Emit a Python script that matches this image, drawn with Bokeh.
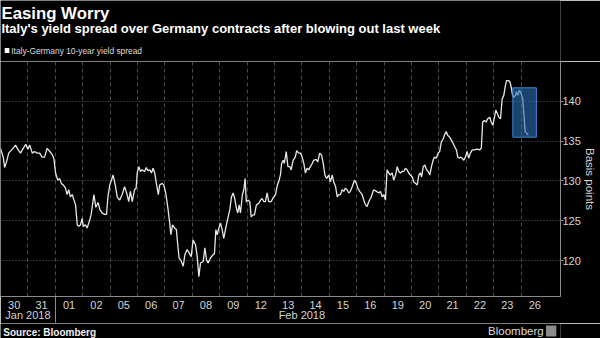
import math
from bokeh.plotting import figure
from bokeh.layouts import column
from bokeh.models import Range1d, FixedTicker, Label, Quad, ColumnDataSource, LinearAxis
from bokeh.embed import file_html
from bokeh.resources import INLINE

# ---- data (x = trading-day position, 0 = start of Jan 30; y = spread in bp) ----
day_labels = ["30", "31", "01", "02", "05", "06", "07", "08", "09", "12",
              "13", "14", "15", "16", "19", "20", "21", "22", "23", "26"]
month_labels = ["Jan 2018", "Feb 2018"]
month_pos = [1.0, 11.0]          # centre of each month's span of day slots
month_break = [2.0]              # boundary between Jan and Feb slots
y_ticks = [120, 125, 130, 135, 140]

t = [
    0.00, 0.10, 0.15, 0.22, 0.30, 0.43, 0.55, 0.63, 0.73, 0.83,
    0.92, 1.00, 1.07, 1.16, 1.24, 1.34, 1.43, 1.52, 1.61, 1.70,
    1.80, 1.89, 1.95, 2.01, 2.09, 2.16, 2.22, 2.29, 2.37, 2.43,
    2.49, 2.55, 2.62, 2.68, 2.74, 2.80, 2.86, 2.92, 2.98, 3.02,
    3.10, 3.16, 3.24, 3.31, 3.41, 3.48, 3.56, 3.63, 3.71, 3.80,
    3.87, 3.92, 3.99, 4.11, 4.20, 4.26, 4.35, 4.44, 4.53, 4.62,
    4.68, 4.74, 4.81, 4.89, 4.95, 4.99, 5.05, 5.11, 5.17, 5.26,
    5.32, 5.38, 5.45, 5.51, 5.57, 5.63, 5.69, 5.76, 5.81, 5.90,
    5.96, 6.03, 6.11, 6.17, 6.22, 6.28, 6.35, 6.42, 6.47, 6.52,
    6.59, 6.67, 6.73, 6.81, 6.88, 6.96, 7.03, 7.12, 7.18, 7.24,
    7.30, 7.40, 7.46, 7.52, 7.58, 7.66, 7.76, 7.81, 7.86, 7.91,
    7.97, 8.03, 8.09, 8.15, 8.21, 8.27, 8.37, 8.43, 8.49, 8.55,
    8.61, 8.66, 8.71, 8.76, 8.83, 8.88, 8.93, 8.97, 9.03, 9.10,
    9.15, 9.22, 9.27, 9.34, 9.43, 9.49, 9.55, 9.61, 9.67, 9.73,
    9.79, 9.88, 9.95, 10.04, 10.10, 10.16, 10.22, 10.26, 10.32, 10.36,
    10.43, 10.49, 10.56, 10.61, 10.68, 10.76, 10.81, 10.89, 10.95, 11.01,
    11.07, 11.13, 11.19, 11.25, 11.31, 11.38, 11.43, 11.52, 11.58, 11.65,
    11.72, 11.78, 11.84, 11.90, 11.98, 12.04, 12.11, 12.16, 12.23, 12.29,
    12.35, 12.41, 12.47, 12.53, 12.59, 12.65, 12.71, 12.77, 12.84, 12.92,
    12.99, 13.04, 13.11, 13.20, 13.26, 13.32, 13.38, 13.44, 13.53, 13.62,
    13.72, 13.81, 13.87, 13.93, 13.99, 14.05, 14.11, 14.17, 14.23, 14.30,
    14.35, 14.42, 14.48, 14.54, 14.60, 14.66, 14.72, 14.78, 14.84, 14.90,
    14.96, 15.03, 15.08, 15.15, 15.21, 15.27, 15.33, 15.37, 15.43, 15.49,
    15.55, 15.61, 15.67, 15.73, 15.79, 15.84, 15.91, 15.97, 16.03, 16.09,
    16.16, 16.20, 16.27, 16.32, 16.40, 16.46, 16.52, 16.58, 16.64, 16.69,
    16.75, 16.79, 16.85, 16.91, 16.97, 17.03, 17.09, 17.15, 17.22, 17.30,
    17.40, 17.49, 17.55, 17.60, 17.66, 17.73, 17.78, 17.86, 17.91, 17.97,
    18.03, 18.08, 18.13, 18.19, 18.25, 18.31, 18.37, 18.43, 18.47, 18.53,
    18.59, 18.64, 18.69, 18.73, 18.80, 18.83, 18.88, 18.94, 19.00, 19.06,
    19.10, 19.15, 19.20, 19.26,
]
spread = [
    134.1, 133.0, 131.7, 132.4, 133.5, 134.0, 134.5, 134.0, 133.5, 134.1,
    134.6, 134.0, 134.5, 133.5, 133.7, 133.5, 133.5, 133.0, 133.0, 134.1,
    133.7, 133.3, 132.8, 131.0, 130.1, 130.3, 129.7, 129.5, 129.1, 128.3,
    128.9, 128.0, 128.3, 127.6, 127.0, 124.5, 124.3, 124.5, 125.3, 124.3,
    124.5, 124.1, 124.9, 125.8, 128.3, 126.7, 127.3, 126.4, 126.0, 125.8,
    125.8, 128.0, 129.5, 130.75, 129.3, 128.0, 127.6, 128.3, 129.3, 128.3,
    127.4, 128.7, 127.4, 128.9, 129.1, 131.0, 131.8, 131.2, 131.4, 131.2,
    131.7, 131.3, 131.4, 131.0, 131.6, 131.0, 129.7, 128.3, 129.5, 129.7,
    129.5, 128.5, 126.6, 124.9, 123.25, 124.5, 124.1, 123.9, 122.0, 120.3,
    120.0, 119.3, 120.75, 121.4, 121.0, 120.5, 122.6, 122.0, 120.5, 118.0,
    119.7, 119.9, 121.6, 120.1, 119.7, 120.3, 120.75, 120.9, 123.9, 123.25,
    124.1, 124.7, 123.9, 122.8, 123.9, 124.9, 126.4, 128.0, 128.5, 127.8,
    126.6, 126.0, 127.0, 126.0, 128.3, 128.9, 130.3, 127.4, 127.6, 127.4,
    125.5, 125.75, 125.75, 127.0, 127.2, 127.6, 127.8, 127.4, 127.4, 128.5,
    127.4, 127.4, 127.9, 128.3, 129.4, 130.0, 130.8, 132.2, 132.6, 132.2,
    133.7, 131.8, 131.8, 131.4, 132.6, 133.0, 133.8, 133.5, 133.5, 133.0,
    132.2, 131.0, 131.6, 131.4, 131.8, 132.2, 132.6, 132.7, 132.4, 133.5,
    133.25, 132.2, 130.75, 130.3, 130.75, 129.9, 130.75, 129.9, 129.3, 128.0,
    128.3, 128.3, 128.9, 128.7, 129.1, 128.9, 128.5, 128.7, 129.3, 130.1,
    129.7, 129.1, 128.7, 128.3, 127.6, 127.0, 126.8, 127.4, 128.0, 128.9,
    128.7, 128.5, 128.7, 128.0, 128.3, 127.6, 131.4, 131.0, 130.75, 131.0,
    130.1, 130.75, 131.8, 131.2, 131.0, 131.2, 131.2, 131.6, 131.4, 131.0,
    130.75, 130.5, 129.9, 129.7, 129.5, 130.75, 131.0, 130.5, 131.8, 132.0,
    131.4, 131.2, 130.75, 131.8, 132.6, 133.0, 132.85, 133.5, 133.7, 134.9,
    135.3, 135.75, 136.2, 135.75, 135.5, 135.1, 134.7, 134.3, 133.9, 133.0,
    132.85, 133.0, 132.85, 132.6, 133.0, 133.7, 132.85, 133.5, 133.9, 133.9,
    134.0, 133.9, 134.1, 137.4, 137.6, 137.4, 137.8, 138.0, 137.4, 137.0,
    138.0, 138.9, 138.5, 138.0, 137.8, 140.3, 140.75, 142.0, 142.6, 142.6,
    142.5, 141.8, 140.75, 140.5, 140.75, 141.2, 140.75, 141.4, 141.0, 140.3,
    138.5, 136.2, 136.0, 135.75,
]
# highlighted window (x from / to, spread from / to)
hl_t = [18.70, 19.56]
hl_bp = [135.5, 141.7]

FONT = "Liberation Sans"
TICK_COL = "#d4d4d4"
BG = "black"

# ---------------- header (title, subtitle, legend) ----------------
head = figure(width=600, height=61, output_backend="svg", toolbar_location=None,
              title=None, x_range=Range1d(0, 600), y_range=Range1d(61, 0),
              x_axis_type=None, y_axis_type=None,
              background_fill_color=BG, border_fill_color=BG, outline_line_color=None,
              min_border=0)
head.grid.visible = False
head.add_layout(Label(x=1, y=12.5, text="Easing Worry", text_color="white",
                      text_font=FONT, text_font_style="bold", text_font_size="16.8px",
                      text_baseline="middle"))
head.add_layout(Label(x=1, y=28.3,
                      text="Italy's yield spread over Germany contracts after blowing out last week",
                      text_color="white", text_font=FONT, text_font_style="bold",
                      text_font_size="13px", text_baseline="middle"))
head.quad(left=[4.5], right=[9.5], top=[47.5], bottom=[52.5], fill_color="white", line_color=None)
head.add_layout(Label(x=11.5, y=50, text="Italy-Germany 10-year yield spread",
                      text_color="#dddddd", text_font=FONT, text_font_size="8.4px",
                      text_baseline="middle"))

# ---------------- main chart ----------------
p = figure(width=600, height=262, output_backend="svg", toolbar_location=None,
           title=None, x_range=Range1d(0.0, 20.44), y_range=Range1d(115.5, 145.0),
           y_axis_location="right",
           background_fill_color=BG, border_fill_color=BG, outline_line_color=None,
           min_border_left=0, min_border_right=40, min_border_top=0, min_border_bottom=26)

day_pos = [i + 0.5 for i in range(len(day_labels))]
xa = p.xaxis[0]
xa.ticker = FixedTicker(ticks=day_pos, minor_ticks=month_break)
xa.major_label_overrides = {pos: lab for pos, lab in zip(day_pos, day_labels)}
xa.major_tick_line_color = None
xa.major_tick_out = 0
xa.major_tick_in = 0
xa.minor_tick_in = 0
xa.minor_tick_out = 26
xa.minor_tick_line_color = "#8a8a8a"
xa.axis_line_color = "#8a8a8a"
xa.major_label_standoff = -22
xa.major_label_text_color = TICK_COL
xa.major_label_text_font = FONT
xa.major_label_text_font_size = "11px"

ma = LinearAxis(ticker=FixedTicker(ticks=month_pos),
                major_label_overrides={pos: lab for pos, lab in zip(month_pos, month_labels)},
                axis_line_color=None, major_tick_line_color=None, minor_tick_line_color=None,
                major_tick_out=0, major_tick_in=0, minor_tick_out=0, minor_tick_in=0,
                major_label_standoff=-3, major_label_text_color=TICK_COL,
                major_label_text_font=FONT, major_label_text_font_size="11px")
p.add_layout(ma, "below")

ya = p.yaxis[0]
ya.ticker = FixedTicker(ticks=y_ticks)
ya.axis_line_color = "#8a8a8a"
ya.major_tick_line_color = "#8a8a8a"
ya.major_tick_out = 0
ya.major_tick_in = -3          # short tick drawn on the outer side of the axis
ya.minor_tick_line_color = None
ya.major_label_standoff = 2
ya.major_label_text_color = TICK_COL
ya.major_label_text_font = FONT
ya.major_label_text_font_size = "11px"
ya.axis_label = "Basis points"
ya.axis_label_standoff = 0
ya.axis_label_text_color = TICK_COL
ya.axis_label_text_font = FONT
ya.axis_label_text_font_style = "normal"
ya.axis_label_text_font_size = "11.5px"

p.xgrid.ticker = FixedTicker(ticks=list(range(1, len(day_labels))))
p.xgrid.grid_line_color = "#4a4a4a"
p.xgrid.grid_line_dash = "4 3"
p.ygrid.grid_line_color = "#5a5a5a"
p.ygrid.grid_line_dash = "1 2"

p.line(t, spread, line_color="#e8e8e8", line_width=1.3)

src = ColumnDataSource(dict(left=[hl_t[0]], right=[hl_t[1]], bottom=[hl_bp[0]], top=[hl_bp[1]]))
p.add_glyph(src, Quad(left="left", right="right", bottom="bottom", top="top",
                      fill_color="#2b70b8", fill_alpha=0.6,
                      line_color="#3f86d6", line_width=1))

# ---------------- footer (source, logo) ----------------
foot = figure(width=600, height=15, output_backend="svg", toolbar_location=None,
              title=None, x_range=Range1d(0, 600), y_range=Range1d(338, 323),
              x_axis_type=None, y_axis_type=None,
              background_fill_color=BG, border_fill_color=BG, outline_line_color=None,
              min_border=0)
foot.grid.visible = False
foot.add_layout(Label(x=3, y=331.5, text="Source: Bloomberg", text_color="#eeeeee",
                      text_font=FONT, text_font_style="bold", text_font_size="10px",
                      text_baseline="middle"))
foot.add_layout(Label(x=582, y=330, text="Bloomberg", text_color="#dddddd",
                      text_font=FONT, text_font_size="11.5px", text_align="right",
                      text_baseline="middle"))
foot.quad(left=[584.5], right=[595.5], top=[325], bottom=[336],
          fill_color="#8c8c8c", line_color=None)

layout = column(head, p, foot, spacing=0)
open("out.html", "w").write(file_html(layout, INLINE))
